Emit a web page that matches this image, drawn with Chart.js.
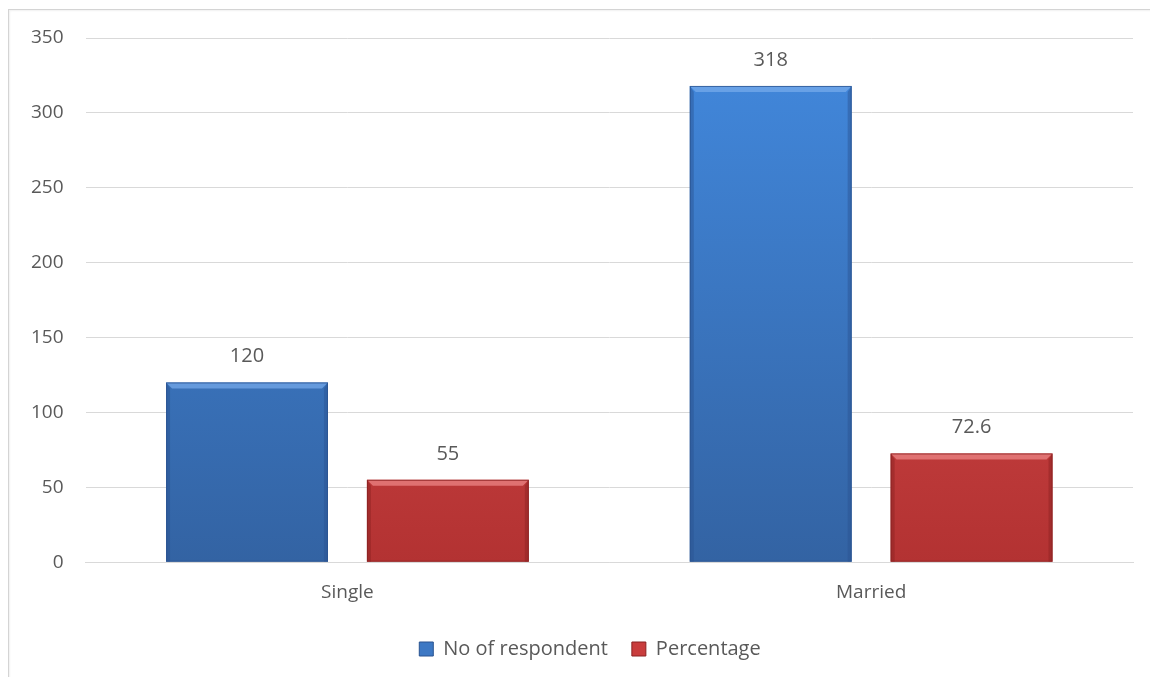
<!DOCTYPE html>
<html>
<head>
    <title>Marital Status of Respondents</title>
    <script src="https://cdn.jsdelivr.net/npm/chart.js"></script>
    <style>
        html, body {
            margin: 0;
            padding: 0;
            background: #ffffff;
            overflow: hidden;
        }
        .frame {
            position: absolute;
            left: 8px;
            top: 9px;
            width: 1160px;
            height: 700px;
            border: 1px solid #d4d4d4;
            box-shadow: inset 1px 1px 2px rgba(0,0,0,0.06);
        }
        .chart-box {
            position: absolute;
            left: 0;
            top: 0;
            width: 1150px;
            height: 677px;
        }
    </style>
</head>
<body>
    <div class="frame"></div>
    <div class="chart-box">
        <canvas id="statusChart"></canvas>
    </div>

    <script>
        const categories = ['Single', 'Married'];
        const respondents = [120, 318];
        const percentages = [55, 72.6];
        const yTicks = [0, 50, 100, 150, 200, 250, 300, 350];

        const FONT = '"Open Sans", "Liberation Sans", sans-serif';
        const TEXT = '#595959';

        // top / bottom colours of each series plus the darker edge colour
        const palette = [
            { top: '#4289de', bottom: '#3363a3', edge: '#2a5390', light: '#79acec', solid: '#3d78c4' },
            { top: '#e25454', bottom: '#b33232', edge: '#8a2222', light: '#f08a8a', solid: '#c93d3d' }
        ];

        function barFill(idx) {
            return function(context) {
                const chart = context.chart;
                const area = chart.chartArea;
                if (!area) return palette[idx].solid;
                const el = context.element;
                const top = el && isFinite(el.y) ? el.y : area.top;
                const base = el && isFinite(el.base) ? el.base : area.bottom;
                const g = chart.ctx.createLinearGradient(0, top, 0, base);
                g.addColorStop(0, palette[idx].top);
                g.addColorStop(1, palette[idx].bottom);
                return g;
            };
        }

        // bevelled edges on each bar
        const bevelPlugin = {
            id: 'bevel',
            afterDatasetsDraw(chart) {
                const ctx = chart.ctx;
                chart.data.datasets.forEach((ds, i) => {
                    const meta = chart.getDatasetMeta(i);
                    const p = palette[i];
                    meta.data.forEach(bar => {
                        const l = bar.x - bar.width / 2;
                        const r = bar.x + bar.width / 2;
                        const t = bar.y;
                        const b = bar.base;
                        const d = 6;
                        ctx.save();
                        // top highlight
                        ctx.fillStyle = p.light;
                        ctx.globalAlpha = 0.7;
                        ctx.beginPath();
                        ctx.moveTo(l, t);
                        ctx.lineTo(r, t);
                        ctx.lineTo(r - d, t + d);
                        ctx.lineTo(l + d, t + d);
                        ctx.closePath();
                        ctx.fill();
                        // side shading
                        ctx.globalAlpha = 0.45;
                        ctx.fillStyle = p.edge;
                        ctx.beginPath();
                        ctx.moveTo(l, t);
                        ctx.lineTo(l + 4, t + d);
                        ctx.lineTo(l + 4, b);
                        ctx.lineTo(l, b);
                        ctx.closePath();
                        ctx.fill();
                        ctx.beginPath();
                        ctx.moveTo(r, t);
                        ctx.lineTo(r - 4, t + d);
                        ctx.lineTo(r - 4, b);
                        ctx.lineTo(r, b);
                        ctx.closePath();
                        ctx.fill();
                        // outline
                        ctx.globalAlpha = 0.8;
                        ctx.strokeStyle = p.edge;
                        ctx.lineWidth = 1;
                        ctx.strokeRect(l + 0.5, t + 0.5, r - l - 1, b - t - 1);
                        ctx.restore();
                    });
                });
            }
        };

        // value written above each bar
        const valueLabels = {
            id: 'valueLabels',
            afterDatasetsDraw(chart) {
                const ctx = chart.ctx;
                ctx.save();
                ctx.font = '20px ' + FONT;
                ctx.fillStyle = TEXT;
                ctx.textAlign = 'center';
                ctx.textBaseline = 'middle';
                chart.data.datasets.forEach((ds, i) => {
                    chart.getDatasetMeta(i).data.forEach((bar, j) => {
                        ctx.fillText(String(ds.data[j]), bar.x, bar.y - 26);
                    });
                });
                ctx.restore();
            }
        };

        // centre the legend under the plot area instead of the whole canvas
        const legendShift = {
            id: 'legendShift',
            afterLayout(chart) {
                if (chart.legend) chart.legend.left += 38;
            }
        };

        const ctx = document.getElementById('statusChart').getContext('2d');
        new Chart(ctx, {
            type: 'bar',
            data: {
                labels: categories,
                datasets: [
                    {
                        label: 'No of respondent',
                        data: respondents,
                        backgroundColor: barFill(0),
                        categoryPercentage: 0.767,
                        barPercentage: 0.806
                    },
                    {
                        label: 'Percentage',
                        data: percentages,
                        backgroundColor: barFill(1),
                        categoryPercentage: 0.767,
                        barPercentage: 0.806
                    }
                ]
            },
            options: {
                responsive: true,
                maintainAspectRatio: false,
                animation: false,
                layout: {
                    padding: { left: 9, right: 17, top: 38, bottom: 8 }
                },
                plugins: {
                    legend: {
                        position: 'bottom',
                        labels: {
                            font: { family: FONT, size: 20 },
                            color: TEXT,
                            boxWidth: 14,
                            boxHeight: 14,
                            padding: 24,
                            generateLabels(chart) {
                                return chart.data.datasets.map((ds, i) => ({
                                    text: ds.label,
                                    fillStyle: palette[i].solid,
                                    strokeStyle: palette[i].edge,
                                    lineWidth: 1,
                                    fontColor: TEXT,
                                    datasetIndex: i
                                }));
                            }
                        }
                    },
                    tooltip: { enabled: false }
                },
                scales: {
                    x: {
                        grid: { display: false },
                        border: { color: '#d9d9d9' },
                        ticks: {
                            font: { family: FONT, size: 19 },
                            color: TEXT,
                            padding: 11
                        }
                    },
                    y: {
                        min: 0,
                        max: 350,
                        afterBuildTicks(axis) {
                            axis.ticks = yTicks.map(v => ({ value: v }));
                        },
                        grid: { color: '#d9d9d9', drawTicks: false },
                        border: { display: false },
                        ticks: {
                            font: { family: FONT, size: 19 },
                            color: TEXT,
                            padding: 22
                        }
                    }
                }
            },
            plugins: [bevelPlugin, valueLabels, legendShift]
        });
    </script>
</body>
</html>
